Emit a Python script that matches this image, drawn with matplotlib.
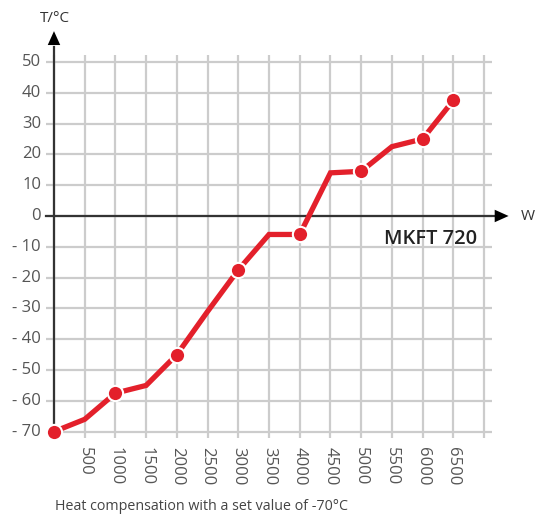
import numpy as np
import matplotlib.pyplot as plt

plt.rcParams['font.family'] = ['Open Sans', 'DejaVu Sans']

# heat compensation curve, MKFT 720
power_w = [0, 500, 1000, 1500, 2000, 2500, 3000, 3500, 4000, 4500, 5000, 5500, 6000, 6500]
temp_c = [-70, -66, -57.5, -55, -45, -31, -17.5, -6, -6, 14, 14.5, 22.5, 25, 37.5]
marked_w = [0, 1000, 2000, 3000, 4000, 5000, 6000, 6500]

x_ticks = [500, 1000, 1500, 2000, 2500, 3000, 3500, 4000, 4500, 5000, 5500, 6000, 6500]
x_grid = list(range(0, 7001, 500))
y_ticks = [50, 40, 30, 20, 10, 0, -10, -20, -30, -40, -50, -60, -70]

red = '#e3202b'
grid_col = '#cccccc'

fig = plt.figure(figsize=(5.38, 5.21), dpi=100)
ax = fig.add_axes([0.0855, 0.1597, 0.829, 0.735])
ax.set_xlim(-130, 7130)
ax.set_ylim(-72, 52.3)

for gx in x_grid:
    ax.axvline(gx, color=grid_col, lw=1.6, zorder=1)
for gy in y_ticks:
    ax.axhline(gy, color=grid_col, lw=1.6, zorder=1)

for s in ax.spines.values():
    s.set_visible(False)
ax.set_xticks([])
ax.set_yticks([])

# axes with arrows
ax.plot([0, 0], [-72, 55], color='#333333', lw=1.6, zorder=2, clip_on=False)
ax.annotate('', xy=(0, 60), xytext=(0, 54), annotation_clip=False,
            arrowprops=dict(arrowstyle='-|>,head_width=0.45,head_length=1.0',
                            color='black', lw=0, shrinkA=0, shrinkB=0))
ax.plot([-130, 7200], [0, 0], color='#333333', lw=1.6, zorder=2, clip_on=False)
ax.annotate('', xy=(7400, 0), xytext=(7150, 0), annotation_clip=False,
            arrowprops=dict(arrowstyle='-|>,head_width=0.45,head_length=1.0',
                            color='black', lw=0, shrinkA=0, shrinkB=0))

for v in y_ticks:
    ax.text(-210, v, str(v).replace('-', '- ') if v < 0 else str(v), ha='right', va='center',
            fontsize=12, color='#555555')
for v in x_ticks:
    ax.text(v, -75, str(v), ha='center', va='top', rotation=270,
            fontsize=12, color='#555555')

ax.plot(power_w, temp_c, color=red, lw=3.8, zorder=3, solid_capstyle='round',
        solid_joinstyle='miter', clip_on=False)
mt = [temp_c[power_w.index(w)] for w in marked_w]
ax.plot(marked_w, mt, 'o', ms=11, color=red, mec='white', mew=1.5, zorder=4, clip_on=False)

ax.text(5380, -7.5, 'MKFT 720', fontsize=14.5, color='#222222', ha='left', va='center',
        fontweight='semibold')
fig.text(521 / 538, 1 - 216 / 521, 'W', fontsize=11, color='#333333', ha='left', va='center')
fig.text(40 / 538, 1 - 18 / 521, 'T/°C', fontsize=11, color='#333333', ha='left', va='center')
fig.text(55 / 538, 1 - 506 / 521, 'Heat compensation with a set value of -70°C',
         fontsize=10.3, color='#444444', ha='left', va='center')

fig.savefig('out.png', dpi=100)
